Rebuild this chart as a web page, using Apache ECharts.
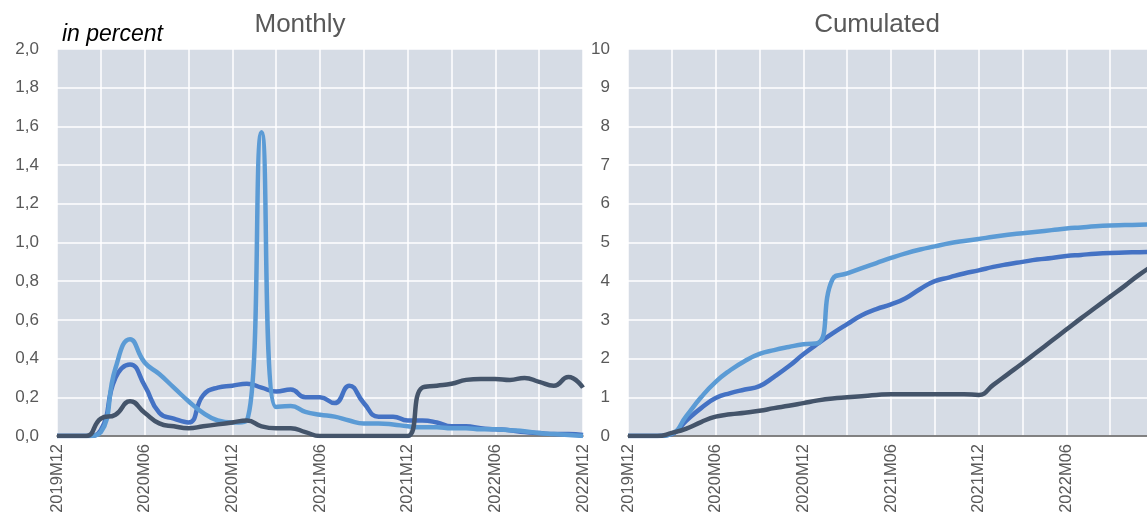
<!DOCTYPE html>
<html>
<head>
<meta charset="utf-8">
<script src="https://cdn.jsdelivr.net/npm/echarts@6/dist/echarts.min.js"></script>
<style>
html,body{margin:0;padding:0;background:#fff;}
#chart{width:1147px;height:512px;}
</style>
</head>
<body>
<div id="chart"></div>
<script>
// months 2019M12 .. 2022M12
var months = [];
var years = [2019, 2020, 2021, 2022];
for (var y = 0; y < years.length; y++) {
	for (var m = 1; m <= 12; m++) {
		if (years[y] == 2019 && m < 12) continue;
		months.push(years[y] + "M" + (m < 10 ? "0" + m : m));
	}
}

// monthly, in percent
var monthlyLight = [0,0,0,0.02,0.35,0.50,0.38,0.32,0.25,0.18,0.12,0.08,0.07,0.08,1.57,0.15,0.155,0.125,0.11,0.10,0.08,0.065,0.065,0.06,0.05,0.045,0.045,0.04,0.04,0.035,0.035,0.03,0.025,0.015,0.01,0.005,0];
var monthlyMid = [0,0,0,0.03,0.30,0.37,0.26,0.12,0.09,0.07,0.21,0.25,0.26,0.27,0.25,0.23,0.24,0.20,0.20,0.17,0.26,0.17,0.10,0.10,0.08,0.08,0.07,0.05,0.05,0.04,0.035,0.03,0.02,0.015,0.01,0.01,0.005];
var monthlyDark = [0,0,0,0.09,0.11,0.18,0.12,0.065,0.05,0.04,0.05,0.06,0.07,0.08,0.05,0.04,0.04,0.02,0,0,0,0,0,0,0,0.25,0.26,0.27,0.29,0.295,0.295,0.29,0.30,0.28,0.26,0.305,0.25];

// cumulated
var cumLight = [0,0,0,0.06,0.52,1.0,1.4,1.7,1.94,2.12,2.22,2.3,2.37,2.4,4.05,4.2,4.34,4.47,4.6,4.72,4.82,4.9,4.98,5.04,5.09,5.15,5.2,5.24,5.28,5.32,5.36,5.39,5.42,5.44,5.45,5.46,5.47];
var cumMid = [0,0,0,0.05,0.4,0.72,0.98,1.11,1.2,1.29,1.53,1.8,2.11,2.39,2.65,2.89,3.12,3.28,3.4,3.56,3.8,4.0,4.1,4.2,4.28,4.37,4.44,4.5,4.56,4.6,4.65,4.68,4.71,4.73,4.74,4.75,4.76];
var cumDark = [0,0,0,0.08,0.19,0.36,0.5,0.56,0.6,0.65,0.72,0.78,0.85,0.92,0.97,1.0,1.03,1.06,1.08,1.08,1.08,1.08,1.08,1.08,1.06,1.32,1.6,1.88,2.17,2.46,2.75,3.04,3.32,3.6,3.88,4.17,4.42];

var COL_LIGHT = '#5b9bd5';
var COL_MID = '#4472c4';
var COL_DARK = '#44546a';
var FONT = 'Liberation Sans, Arial, sans-serif';

var chart = echarts.init(document.getElementById('chart'));

function xAxis(idx) {
	return {
		type: 'category',
		gridIndex: idx,
		data: months,
		boundaryGap: false,
		axisTick: {show: false},
		axisLine: {show: true, lineStyle: {color: '#595959', width: 1.5}},
		axisLabel: {
			rotate: 90,
			margin: 8,
			color: '#595959',
			fontSize: 16.5,
			fontFamily: FONT,
			interval: function (i) { return i % 6 === 0; }
		},
		splitLine: {
			show: true,
			interval: function (i) { return i % 3 === 0; },
			lineStyle: {color: '#ffffff', width: 1.5}
		}
	};
}

function yAxis(idx, max, step, fmt) {
	return {
		type: 'value',
		gridIndex: idx,
		min: 0,
		max: max,
		interval: step,
		axisLine: {show: false},
		axisTick: {show: false},
		axisLabel: {color: '#595959', fontSize: 17, fontFamily: FONT, margin: 18, formatter: fmt},
		splitLine: {lineStyle: {color: '#ffffff', width: 1.5}}
	};
}

function line(idx, data, color) {
	return {
		type: 'line',
		xAxisIndex: idx,
		yAxisIndex: idx,
		data: data,
		smooth: 0.5,
		symbol: 'none',
		lineStyle: {color: color, width: 4.5},
		itemStyle: {color: color},
		silent: true
	};
}

var option = {
	backgroundColor: '#ffffff',
	animation: false,
	grid: [
		{left: 57, top: 49, width: 526, height: 387, show: true, backgroundColor: '#d6dce5', borderWidth: 0, outerBoundsMode: 'none', containLabel: false},
		{left: 628, top: 49, width: 526, height: 387, show: true, backgroundColor: '#d6dce5', borderWidth: 0, outerBoundsMode: 'none', containLabel: false}
	],
	xAxis: [xAxis(0), xAxis(1)],
	yAxis: [
		yAxis(0, 2, 0.2, function (v) { return v.toFixed(1).replace('.', ','); }),
		yAxis(1, 10, 1, function (v) { return String(v); })
	],
	graphic: [
		{type: 'text', x: 300, y: 25, style: {text: 'Monthly', fill: '#595959', font: '26px ' + FONT, textAlign: 'center', textVerticalAlign: 'middle'}},
		{type: 'text', x: 877, y: 25, style: {text: 'Cumulated', fill: '#595959', font: '26px ' + FONT, textAlign: 'center', textVerticalAlign: 'middle'}},
		{type: 'text', x: 62, y: 35, style: {text: 'in percent', fill: '#000000', font: 'italic 23px ' + FONT, textAlign: 'left', textVerticalAlign: 'middle'}}
	],
	series: [
		line(0, monthlyMid, COL_MID),
		line(0, monthlyLight, COL_LIGHT),
		line(0, monthlyDark, COL_DARK),
		line(1, cumMid, COL_MID),
		line(1, cumLight, COL_LIGHT),
		line(1, cumDark, COL_DARK)
	]
};

chart.setOption(option);
</script>
</body>
</html>
